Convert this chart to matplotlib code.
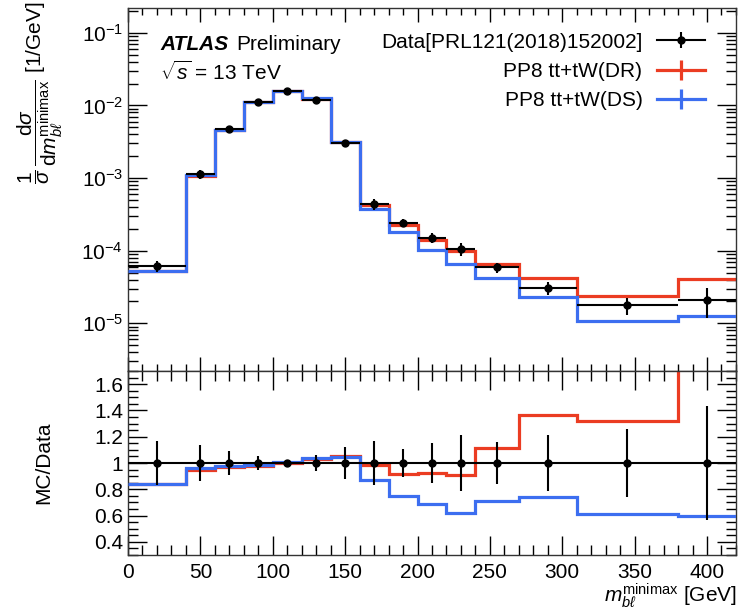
import numpy as np
import matplotlib
matplotlib.use("Agg")
import matplotlib.pyplot as plt
from matplotlib.lines import Line2D
from matplotlib.legend_handler import HandlerTuple
from matplotlib.ticker import LogLocator, MultipleLocator, NullFormatter, FixedLocator

plt.rcParams['font.family'] = ['Liberation Sans', 'DejaVu Sans']
plt.rcParams['mathtext.fontset'] = 'custom'
plt.rcParams['mathtext.rm'] = 'Liberation Sans'
plt.rcParams['mathtext.it'] = 'Liberation Sans:italic'
plt.rcParams['mathtext.bf'] = 'Liberation Sans:bold'
plt.rcParams['mathtext.sf'] = 'Liberation Sans'

# ---------------- data ----------------
bin_edges = [0, 40, 60, 80, 100, 120, 140, 160, 180, 200, 220, 240, 270, 310, 380, 420]
data_x = [20, 50, 70, 90, 110, 130, 150, 170, 190, 210, 230, 255, 290, 345, 400]
data_y = [6.2e-5, 1.13e-3, 4.7e-3, 1.13e-2, 1.56e-2, 1.20e-2, 3.0e-3, 4.4e-4,
          2.44e-4, 1.50e-4, 1.07e-4, 5.9e-5, 3.1e-5, 1.77e-5, 2.1e-5]
data_relerr = [0.17, 0.135, 0.09, 0.05, 0.02, 0.06, 0.12, 0.17, 0.11, 0.155,
               0.21, 0.16, 0.21, 0.26, 0.435]
dr_y = [5.3e-5, 1.08e-3, 4.55e-3, 1.10e-2, 1.56e-2, 1.24e-2, 3.15e-3, 4.3e-4,
        2.23e-4, 1.39e-4, 9.8e-5, 6.6e-5, 4.25e-5, 2.35e-5, 4.1e-5]
ds_y = [5.3e-5, 1.09e-3, 4.6e-3, 1.11e-2, 1.58e-2, 1.25e-2, 3.12e-3, 3.8e-4,
        1.8e-4, 1.03e-4, 6.6e-5, 4.2e-5, 2.3e-5, 1.07e-5, 1.25e-5]
dr_ratio = [0.84, 0.95, 0.967, 0.975, 1.0, 1.03, 1.055, 0.985, 0.915, 0.923,
            0.91, 1.115, 1.367, 1.32, 1.95]
ds_ratio = [0.84, 0.96, 0.98, 0.987, 1.01, 1.04, 1.045, 0.87, 0.75, 0.69,
            0.62, 0.71, 0.745, 0.61, 0.60]

legend_labels = ["Data[PRL121(2018)152002]", "PP8 tt+tW(DR)", "PP8 tt+tW(DS)"]
ratio_ticks = [0.4, 0.6, 0.8, 1.0, 1.2, 1.4, 1.6]
ratio_ticklabels = ['0.4', '0.6', '0.8', '1', '1.2', '1.4', '1.6']
red = '#eb3c22'
blue = '#3c6ef0'

edges = np.array(bin_edges, dtype=float)
xc = np.array(data_x, dtype=float)
xerr = [xc - edges[:-1], edges[1:] - xc]
dy = np.array(data_y)
rel = np.array(data_relerr)

fig = plt.figure(figsize=(7.39, 6.11), dpi=100)
ax1 = fig.add_axes([0.1732, 0.3928, 0.8227, 0.5941])
ax2 = fig.add_axes([0.1732, 0.0916, 0.8227, 0.3012])

FS = 15
LW = 2.3

# ---------- top panel ----------
ax1.stairs(dr_y, edges, baseline=None, color=red, lw=LW, zorder=2)
ax1.stairs(ds_y, edges, baseline=None, color=blue, lw=LW, zorder=3)
ax1.errorbar(xc, dy, yerr=dy * rel, xerr=xerr, fmt='o', color='black',
             ms=5, lw=1.5, capsize=0, zorder=5)
ax1.set_yscale('log')
ax1.set_xlim(0, 420)
ax1.set_ylim(2.2e-6, 0.22)
ax1.yaxis.set_major_locator(LogLocator(base=10, numticks=20))
ax1.yaxis.set_minor_locator(LogLocator(base=10, subs=np.arange(2, 10), numticks=20))
ax1.yaxis.set_minor_formatter(NullFormatter())
ax1.xaxis.set_major_locator(MultipleLocator(50))
ax1.xaxis.set_minor_locator(MultipleLocator(10))
ax1.tick_params(axis='x', labelbottom=False)
ax1.set_ylabel(r'$\dfrac{1}{\sigma}\,\dfrac{\mathrm{d}\sigma}{\mathrm{d}m_{b\ell}^{\mathrm{minimax}}}$ [1/GeV]',
               fontsize=FS, loc='top')
ax1.yaxis.set_label_coords(-0.104, 1.017)

# ---------- ratio panel ----------
ax2.stairs(dr_ratio, edges, baseline=None, color=red, lw=LW, zorder=2)
ax2.stairs(ds_ratio, edges, baseline=None, color=blue, lw=LW, zorder=3)
ax2.errorbar(xc, np.ones_like(xc), yerr=rel, xerr=xerr, fmt='o', color='black',
             ms=5, lw=1.5, capsize=0, zorder=5)
ax2.set_xlim(0, 420)
ax2.set_ylim(0.3, 1.7)
ax2.yaxis.set_major_locator(FixedLocator(ratio_ticks))
ax2.yaxis.set_minor_locator(MultipleLocator(0.05))
ax2.set_yticklabels(ratio_ticklabels)
ax2.xaxis.set_major_locator(MultipleLocator(50))
ax2.xaxis.set_minor_locator(MultipleLocator(10))
ax2.set_ylabel('MC/Data', fontsize=FS)
ax2.yaxis.set_label_coords(-0.123, 0.5)
fig.text(737 / 739, 9 / 611, r'$m_{b\ell}^{\mathrm{minimax}}$ [GeV]', fontsize=FS,
         ha='right', va='baseline')

for ax in (ax1, ax2):
    for s in ax.spines.values():
        s.set_linewidth(1.0)
        s.set_color('#333333')
    ax.tick_params(which='both', direction='in', top=True, right=True,
                   labelsize=FS, width=1.0, colors='black')
ax1.tick_params(axis='y', which='major', length=14)
ax1.tick_params(axis='y', which='minor', length=7)
ax1.tick_params(axis='x', which='major', length=10)
ax1.tick_params(axis='x', which='minor', length=5)
ax2.tick_params(axis='both', which='major', length=14)
ax2.tick_params(axis='both', which='minor', length=7)
ax2.tick_params(axis='x', pad=6)

# ---------- texts ----------
ax1.text(0.0526, 0.884, 'ATLAS', transform=ax1.transAxes, fontsize=FS,
         fontweight='bold', fontstyle='italic', va='baseline')
ax1.text(0.1776, 0.884, 'Preliminary', transform=ax1.transAxes, fontsize=FS,
         va='baseline')
ax1.text(0.0526, 0.802, r'$\sqrt{s}$ = 13 TeV', transform=ax1.transAxes,
         fontsize=FS, va='baseline')

# ---------- legend ----------
h_data = (Line2D([], [], color='black', lw=1.5),
          Line2D([], [], color='black', marker='o', ms=5, ls='none'),
          Line2D([], [], color='black', marker='|', ms=11, mew=1.5, ls='none'))
h_dr = (Line2D([], [], color=red, lw=LW),
        Line2D([], [], color=red, marker='|', ms=14, mew=LW, ls='none'))
h_ds = (Line2D([], [], color=blue, lw=LW),
        Line2D([], [], color=blue, marker='|', ms=14, mew=LW, ls='none'))
ax1.legend([h_data, h_dr, h_ds], legend_labels,
           handler_map={tuple: HandlerTuple(ndivide=1, pad=0)},
           loc='upper right', bbox_to_anchor=(0.949, 0.932), frameon=False,
           markerfirst=False, fontsize=FS, handlelength=2.3,
           labelspacing=0.49, handletextpad=0.7, borderaxespad=0, borderpad=0)

fig.savefig('out.png', dpi=100)
